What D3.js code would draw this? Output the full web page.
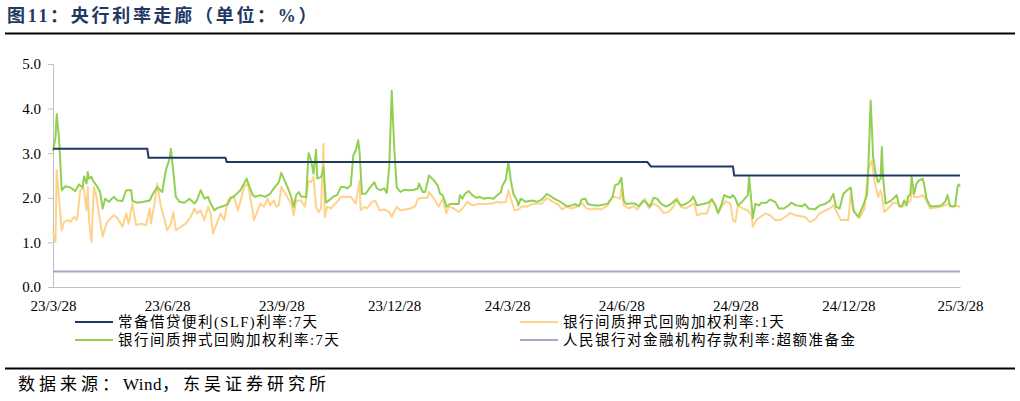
<!DOCTYPE html>
<html>
<head>
<meta charset="utf-8">
<script src="https://cdn.jsdelivr.net/npm/d3@7/dist/d3.min.js"></script>
<style>
  html, body { margin: 0; padding: 0; background: #fff; }
  svg { display: block; }
</style>
</head>
<body>
<svg id="chart" width="1020" height="401"></svg>
<script>
// ---------------- DATA ----------------
const startDate = "2023-03-28";
const endDate = "2025-03-28";
const xTickLabels = ["23/3/28","23/6/28","23/9/28","23/12/28","24/3/28","24/6/28","24/9/28","24/12/28","25/3/28"];
const xTickDates = ["2023-03-28","2023-06-28","2023-09-28","2023-12-28","2024-03-28","2024-06-28","2024-09-28","2024-12-28","2025-03-28"];
const yTicks = [0, 1, 2, 3, 4, 5];
const seriesNames = ["常备借贷便利(SLF)利率:7天", "银行间质押式回购加权利率:1天", "银行间质押式回购加权利率:7天", "人民银行对金融机构存款利率:超额准备金"];

// SLF 7D rate (date, %)
const slf7d = [["2023-03-28",3.10],["2023-06-12",3.10],["2023-06-13",2.90],["2023-08-14",2.90],["2023-08-15",2.80],
  ["2024-07-19",2.80],["2024-07-22",2.70],["2024-09-26",2.70],["2024-09-27",2.50],["2025-03-28",2.50]];

// Excess reserve deposit rate (date, %)
const excessReserve = [["2023-03-28",0.35],["2025-03-28",0.35]];

// Interbank pledged repo weighted rate 7D: [days since startDate, %]
const repo7d = [[0,3.05],[2,3.35],[3,3.88],[5,3.28],[7,2.17],[10,2.26],[14,2.23],[18,2.15],[21,2.30],[24,2.23],[25,2.48],[27,2.32],[28,2.58],[29,2.43],[31,2.47],[32,2.39],[35,2.28],[38,2.13],[40,1.76],[42,1.98],[45,1.91],[49,2.02],[52,1.94],[56,1.93],[59,2.17],[63,2.17],[64,1.93],[68,1.89],[73,1.91],[78,1.94],[80,2.06],[84,2.24],[88,2.13],[91,2.62],[94,2.88],[95,3.10],[96,2.84],[99,2.02],[102,1.91],[106,1.89],[110,1.98],[114,1.87],[116,1.94],[119,2.17],[122,1.98],[125,2.02],[127,1.87],[130,1.72],[133,1.78],[137,1.81],[141,1.86],[143,1.98],[147,2.06],[151,2.17],[154,2.32],[156,2.43],[158,2.28],[161,2.06],[163,2.02],[167,2.06],[171,2.02],[175,2.09],[178,2.21],[180,2.28],[182,2.35],[184,2.56],[186,2.43],[189,2.24],[192,2.02],[194,1.80],[196,2.06],[198,2.13],[200,2.03],[204,2.02],[206,3.00],[208,2.84],[210,2.54],[212,3.08],[213,2.43],[216,2.47],[217,2.54],[218,2.69],[220,1.89],[224,1.98],[226,2.03],[229,2.06],[232,2.24],[235,2.24],[237,2.21],[240,2.28],[242,2.95],[244,3.06],[246,3.29],[247,3.06],[249,2.09],[252,2.09],[255,2.21],[259,2.35],[261,2.21],[264,2.17],[267,2.21],[269,2.11],[271,2.69],[273,4.40],[275,3.14],[277,2.24],[280,2.13],[283,2.18],[287,2.17],[291,2.18],[294,2.21],[295,2.32],[298,2.13],[300,2.13],[303,2.50],[307,2.39],[310,2.28],[312,2.09],[314,2.06],[316,1.91],[317,1.80],[320,1.86],[324,1.86],[327,1.86],[328,2.06],[330,1.98],[332,2.09],[335,2.15],[338,2.06],[341,2.00],[344,2.02],[347,1.98],[351,2.00],[355,1.98],[358,2.06],[361,2.12],[362,2.26],[365,2.41],[367,2.80],[369,2.39],[371,2.09],[374,1.94],[375,1.83],[377,1.98],[381,1.91],[386,1.94],[390,1.91],[394,1.96],[398,2.09],[404,1.98],[409,1.91],[414,1.81],[418,1.83],[421,1.86],[424,1.81],[426,1.96],[429,1.98],[431,1.86],[436,1.83],[441,1.83],[447,1.87],[451,2.02],[453,2.28],[456,2.32],[458,2.45],[460,1.94],[462,1.86],[465,1.87],[469,1.87],[472,1.81],[476,1.94],[479,1.87],[481,1.80],[484,2.00],[487,1.98],[490,1.87],[494,1.80],[498,1.86],[502,1.96],[506,1.83],[510,1.86],[514,1.94],[516,2.03],[519,1.83],[524,1.86],[528,1.89],[531,1.96],[534,1.83],[536,1.66],[539,1.87],[541,2.06],[543,2.03],[546,2.00],[548,2.06],[550,1.98],[552,1.83],[556,1.93],[560,2.06],[561,2.47],[563,1.87],[564,1.54],[566,1.86],[569,1.83],[571,1.89],[575,1.89],[578,1.96],[582,1.91],[585,1.76],[589,1.76],[593,1.83],[595,1.89],[599,1.83],[604,1.81],[606,1.86],[609,1.76],[614,1.74],[618,1.83],[622,1.86],[626,1.93],[629,2.09],[631,1.80],[634,1.76],[637,2.09],[640,2.17],[643,2.23],[645,1.72],[649,1.57],[653,1.83],[656,2.06],[657,2.58],[659,4.18],[661,2.91],[663,2.54],[665,2.35],[667,2.43],[668,3.14],[669,2.47],[671,1.87],[675,1.93],[678,2.00],[680,2.06],[682,1.81],[684,1.80],[686,1.94],[688,1.83],[689,2.02],[691,2.09],[692,2.47],[694,2.09],[696,2.32],[698,2.39],[701,2.43],[702,2.32],[704,1.98],[707,1.81],[712,1.81],[716,1.83],[719,1.91],[721,2.06],[723,1.81],[727,1.81],[729,2.24],[730,2.30],[731,2.26]];

// Interbank pledged repo weighted rate 1D: [days since startDate, %]
const repo1d = [[0,1.24],[2,1.01],[3,2.62],[5,1.94],[7,1.27],[9,1.46],[12,1.50],[14,1.46],[17,1.57],[19,1.50],[20,1.65],[22,2.17],[24,2.24],[25,2.17],[27,1.72],[28,2.24],[29,1.50],[31,1.01],[33,2.24],[35,2.02],[37,1.65],[40,1.13],[43,1.42],[45,1.50],[49,1.61],[52,1.54],[56,1.35],[59,1.65],[61,1.42],[64,1.87],[67,1.39],[71,1.42],[75,1.39],[78,1.76],[79,1.42],[82,1.91],[84,2.32],[87,1.80],[90,1.50],[92,1.27],[95,1.42],[97,1.68],[99,1.27],[103,1.35],[107,1.42],[111,1.57],[114,1.76],[116,1.65],[119,1.72],[122,1.50],[125,1.80],[127,1.65],[129,1.20],[133,1.50],[135,1.65],[138,1.50],[141,1.94],[143,2.02],[146,2.02],[149,1.72],[151,1.91],[154,2.24],[157,2.32],[159,2.02],[162,1.50],[165,1.72],[167,1.87],[170,1.80],[173,1.98],[175,1.83],[178,1.94],[180,1.80],[182,1.83],[184,2.24],[188,2.06],[192,1.87],[194,1.61],[196,1.94],[200,1.94],[203,1.80],[206,2.38],[208,2.35],[210,2.47],[212,1.80],[214,1.68],[216,1.76],[218,3.21],[219,1.57],[221,1.80],[224,1.76],[226,1.83],[230,1.94],[232,2.03],[236,2.02],[240,2.02],[244,1.87],[247,2.39],[248,1.72],[251,1.80],[253,1.76],[257,1.91],[260,1.93],[263,1.72],[267,1.74],[271,1.68],[273,1.57],[277,1.80],[280,1.72],[284,1.74],[288,1.76],[292,1.81],[294,1.98],[298,2.00],[302,2.00],[303,2.13],[307,1.98],[311,1.80],[314,1.98],[317,1.65],[319,1.81],[323,1.76],[327,1.68],[330,1.76],[334,1.91],[338,1.83],[342,1.86],[347,1.86],[354,1.87],[358,1.91],[361,1.89],[365,1.91],[367,2.17],[369,1.98],[372,1.72],[375,1.74],[378,1.81],[382,1.80],[386,1.86],[394,1.87],[398,2.00],[404,1.89],[408,1.83],[410,1.74],[414,1.80],[418,1.76],[422,1.80],[426,1.89],[430,1.76],[434,1.74],[438,1.76],[442,1.74],[447,1.83],[451,2.02],[453,2.02],[457,1.98],[458,2.21],[460,1.83],[464,1.76],[468,1.81],[471,1.74],[475,1.89],[477,1.98],[480,1.76],[484,1.87],[488,1.80],[492,1.66],[496,1.68],[500,1.80],[503,2.00],[506,1.80],[510,1.76],[514,1.83],[517,1.87],[519,1.61],[523,1.65],[527,1.65],[531,1.98],[534,1.80],[536,1.65],[539,1.80],[542,1.92],[546,1.87],[548,1.50],[550,1.46],[552,1.83],[556,1.76],[560,1.72],[563,1.61],[564,1.35],[567,1.50],[570,1.57],[574,1.65],[578,1.61],[582,1.50],[586,1.50],[590,1.57],[594,1.66],[598,1.61],[602,1.59],[606,1.57],[610,1.46],[614,1.51],[618,1.65],[622,1.71],[626,1.76],[629,1.83],[633,1.61],[635,1.50],[638,1.51],[641,1.50],[643,2.09],[646,1.68],[650,1.54],[654,1.76],[657,2.62],[660,2.84],[662,2.39],[665,2.02],[667,2.17],[668,2.06],[670,1.68],[673,1.76],[677,1.89],[681,1.87],[684,1.80],[688,1.86],[691,1.93],[692,2.17],[694,2.02],[698,2.02],[701,2.06],[704,1.93],[707,1.76],[712,1.78],[717,1.81],[721,1.86],[725,1.80],[729,1.83],[731,1.78]];

// ---------------- CHART ----------------
const parse = d3.timeParse("%Y-%m-%d");
const t0 = parse(startDate);
const svg = d3.select("#chart");
const serif = '"Times New Roman", "Liberation Serif", "Noto Sans CJK SC", serif';

const colors = {
  slf: "#1f3864",
  r1: "#ffd28c",
  r7: "#92d050",
  ex: "#b1a0c7"
};

// Title
svg.append("text")
  .attr("x", 7).attr("y", 22)
  .attr("font-family", serif)
  .attr("font-weight", "bold")
  .attr("font-size", 18)
  .attr("letter-spacing", 2.7)
  .attr("fill", "#1f3864")
  .text("图11：央行利率走廊（单位：%）");
svg.append("line").attr("x1", 5).attr("x2", 1015).attr("y1", 33.5).attr("y2", 33.5)
  .attr("stroke", "#000").attr("stroke-width", 2);

// Footer
svg.append("line").attr("x1", 5).attr("x2", 1015).attr("y1", 368.5).attr("y2", 368.5)
  .attr("stroke", "#000").attr("stroke-width", 2);
const foot = svg.append("text")
  .attr("x", 18).attr("y", 390)
  .attr("font-family", serif)
  .attr("font-size", 17)
  .attr("fill", "#000");
foot.append("tspan").attr("letter-spacing", 4).text("数据来源：");
foot.append("tspan").attr("letter-spacing", 0.5).text("Wind");
foot.append("tspan").attr("letter-spacing", 4).text("，东吴证券研究所");

// Scales
const x = d3.scaleTime().domain([parse(startDate), parse(endDate)]).range([53, 960]);
const y = d3.scaleLinear().domain([0, 5]).range([287, 64]);

// Y axis
const yAxis = svg.append("g").attr("transform", "translate(53,0)")
  .call(d3.axisLeft(y).tickValues(yTicks).tickFormat(d3.format(".1f")).tickSize(5).tickPadding(7));
yAxis.select(".domain").attr("stroke", "#bfbfbf");
yAxis.selectAll(".tick line").attr("stroke", "#bfbfbf");
yAxis.selectAll("text").attr("font-family", serif).attr("font-size", 15).attr("fill", "#000");

// X axis labels
const xAxis = svg.append("g").attr("transform", "translate(0,287)")
  .call(d3.axisBottom(x).tickValues(xTickDates.map(parse)).tickFormat((d, i) => xTickLabels[i]).tickSize(0).tickPadding(13));
xAxis.select(".domain").attr("stroke", "#bfbfbf");
xAxis.selectAll("text").attr("font-family", serif).attr("font-size", 15).attr("fill", "#000");

// Lines
const lineDate = d3.line().x(d => x(parse(d[0]))).y(d => y(d[1]));
const lineDay = d3.line().x(d => x(d3.timeDay.offset(t0, d[0]))).y(d => y(d[1]));

svg.append("path").datum(excessReserve).attr("d", lineDate)
  .attr("fill", "none").attr("stroke", colors.ex).attr("stroke-width", 2);
svg.append("path").datum(repo1d).attr("d", lineDay)
  .attr("fill", "none").attr("stroke", colors.r1).attr("stroke-width", 2).attr("stroke-linejoin", "round");
svg.append("path").datum(repo7d).attr("d", lineDay)
  .attr("fill", "none").attr("stroke", colors.r7).attr("stroke-width", 2).attr("stroke-linejoin", "round");
svg.append("path").datum(slf7d).attr("d", lineDate)
  .attr("fill", "none").attr("stroke", colors.slf).attr("stroke-width", 2);

// Legend
const legendItems = [
  {name: seriesNames[0], color: colors.slf, x: 75, y: 322},
  {name: seriesNames[1], color: colors.r1, x: 520, y: 322},
  {name: seriesNames[2], color: colors.r7, x: 75, y: 340},
  {name: seriesNames[3], color: colors.ex, x: 520, y: 340}
];
const lg = svg.append("g").selectAll("g").data(legendItems).join("g")
  .attr("transform", d => `translate(${d.x},${d.y})`);
lg.append("line").attr("x1", 0).attr("x2", 38).attr("y1", 0).attr("y2", 0)
  .attr("stroke", d => d.color).attr("stroke-width", 2);
lg.append("text").attr("x", 43).attr("y", 5)
  .attr("font-family", serif).attr("font-size", 14.5).attr("letter-spacing", 1.5).attr("fill", "#000")
  .text(d => d.name);
</script>
</body>
</html>
